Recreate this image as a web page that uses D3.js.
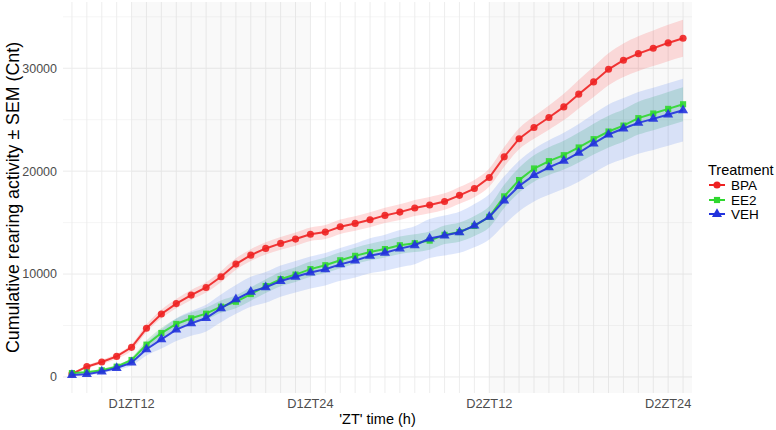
<!DOCTYPE html>
<html>
<head>
<meta charset="utf-8">
<script src="https://cdn.jsdelivr.net/npm/d3@7"></script>
<style>
  html, body { margin: 0; padding: 0; background: #fff; }
  svg { display: block; font-family: "Liberation Sans", Arial, Helvetica, sans-serif; }
</style>
</head>
<body>
<svg id="chart" width="776" height="430"></svg>
<script>
// ---- data ----
const hours = d3.range(0, 42); // hourly time points, D1ZT8 .. D2ZT25
const tickHours = [4, 16, 28, 40];
const tickLabels = ["D1ZT12", "D1ZT24", "D2ZT12", "D2ZT24"];
const yTicks = [0, 10000, 20000, 30000];
const yMinorTicks = [5000, 15000, 25000, 35000];
const darkPeriods = [[4, 16], [28, null]]; // shaded windows (start, end hour index; null = to panel edge)

const treatments = ["BPA", "EE2", "VEH"];
const colors = ["#EE2222", "#2FD82F", "#2233DD"];
const ribbonColors = ["#FF3333", "#1FB050", "#4477EE"];
const ribbonOpacity = [0.17, 0.2, 0.18];

const bpaMean = [300, 1000, 1450, 2000, 2880, 4730, 6120, 7130, 7960, 8700, 9740, 10970, 11840, 12490, 12980, 13400,
  13870, 14080, 14600, 14920, 15280, 15700, 16020, 16420, 16710, 17050, 17650, 18310, 19380, 21390, 23150, 24240,
  25210, 26240, 27480, 28670, 29900, 30780, 31420, 31940, 32460, 32910];
const ee2Mean = [380, 450, 650, 1000, 1650, 3140, 4270, 5150, 5700, 6150, 6830, 7310, 8060, 8830, 9510, 9950,
  10480, 10860, 11340, 11770, 12140, 12430, 12800, 13000, 13250, 13810, 14080, 14680, 15560, 17550, 19130, 20260,
  20970, 21550, 22300, 23110, 23850, 24430, 25150, 25600, 26050, 26500];
const vehMean = [190, 270, 520, 870, 1390, 2690, 3660, 4600, 5210, 5730, 6670, 7540, 8280, 8710, 9320, 9740,
  10150, 10470, 10940, 11310, 11780, 12070, 12470, 12800, 13450, 13750, 14060, 14700, 15560, 17150, 18560, 19610,
  20360, 21000, 21780, 22690, 23560, 24140, 24690, 25080, 25500, 25920];

const bpaSem = [100, 150, 200, 250, 300, 380, 420, 450, 480, 500, 530, 560, 580, 600, 620, 640, 660, 680, 700, 710,
  720, 740, 760, 780, 790, 800, 820, 840, 870, 950, 1020, 1100, 1180, 1280, 1380, 1470, 1550, 1620, 1680, 1730, 1770, 1800];
const ee2Sem = [100, 120, 150, 200, 250, 400, 480, 520, 560, 580, 600, 630, 650, 670, 690, 710, 740, 760, 780, 790,
  800, 820, 840, 860, 880, 900, 930, 970, 1030, 1120, 1200, 1280, 1350, 1400, 1450, 1500, 1540, 1570, 1600, 1620, 1640, 1650];
const vehSem = [20, 100, 150, 200, 300, 600, 900, 1100, 1200, 1300, 1350, 1400, 1450, 1500, 1520, 1540, 1560, 1580,
  1600, 1650, 1700, 1750, 1800, 1850, 1900, 1950, 2000, 2100, 2200, 2350, 2450, 2550, 2650, 2720, 2800, 2860, 2920,
  2960, 3000, 3020, 3040, 3050];

const means = [bpaMean, ee2Mean, vehMean];
const sems = [bpaSem, ee2Sem, vehSem];

// ---- layout ----
const panel = { left: 63, right: 692, top: 2, bottom: 393 };
const svg = d3.select("#chart");

const series = treatments.map((t, k) => ({
  name: t, color: colors[k], rib: ribbonColors[k], ribOp: ribbonOpacity[k],
  values: hours.map((h, i) => ({ h, m: means[k][i], lo: means[k][i] - sems[k][i], hi: means[k][i] + sems[k][i] }))
}));

const x = d3.scalePoint().domain(hours).range([panel.left, panel.right]).padding(0.6);
const lo = d3.min(series, s => d3.min(s.values, d => d.lo));
const hi = d3.max(series, s => d3.max(s.values, d => d.hi));
const pad = (hi - lo) * 0.05;
const y = d3.scaleLinear().domain([lo - pad, hi + pad]).range([panel.bottom, panel.top]);

// grid
const g = svg.append("g");
g.selectAll("line.ymin").data(yMinorTicks.filter(v => y(v) >= panel.top)).join("line")
  .attr("x1", panel.left).attr("x2", panel.right)
  .attr("y1", d => y(d)).attr("y2", d => y(d))
  .attr("stroke", "#EFEFEF").attr("stroke-width", 0.6);
g.selectAll("line.ymaj").data(yTicks).join("line")
  .attr("x1", panel.left).attr("x2", panel.right)
  .attr("y1", d => y(d)).attr("y2", d => y(d))
  .attr("stroke", "#EBEBEB").attr("stroke-width", 1);
g.selectAll("line.xg").data(hours).join("line")
  .attr("x1", d => x(d)).attr("x2", d => x(d))
  .attr("y1", panel.top).attr("y2", panel.bottom)
  .attr("stroke", "#EBEBEB").attr("stroke-width", 0.9);

// shaded dark periods
svg.append("g").selectAll("rect").data(darkPeriods).join("rect")
  .attr("x", d => x(d[0]))
  .attr("width", d => (d[1] === null ? panel.right : x(d[1])) - x(d[0]))
  .attr("y", panel.top).attr("height", panel.bottom - panel.top)
  .attr("fill", "#000").attr("fill-opacity", 0.025);

// ribbons
const area = d3.area().x(d => x(d.h)).y0(d => y(d.lo)).y1(d => y(d.hi)).curve(d3.curveMonotoneX);
svg.append("g").selectAll("path").data(series).join("path")
  .attr("d", s => area(s.values))
  .attr("fill", s => s.rib).attr("fill-opacity", s => s.ribOp);

// lines and points
const line = d3.line().x(d => x(d.h)).y(d => y(d.m));
const sym = [d3.symbolCircle, d3.symbolSquare, d3.symbolTriangle];
const symSize = [40, 38, 44];
series.forEach((s, k) => {
  svg.append("path").attr("d", line(s.values)).attr("fill", "none")
    .attr("stroke", s.color).attr("stroke-width", 2).attr("stroke-opacity", 0.9);
  svg.append("g").selectAll("path").data(s.values).join("path")
    .attr("transform", d => `translate(${x(d.h)},${y(d.m)})`)
    .attr("d", d3.symbol().type(sym[k]).size(symSize[k]))
    .attr("fill", s.color).attr("fill-opacity", 0.9);
});

// axes text
const tickCol = "#4D4D4D";
svg.append("g").selectAll("text").data(yTicks).join("text")
  .attr("x", 57).attr("y", d => y(d)).attr("dy", "0.35em")
  .attr("text-anchor", "end").attr("font-size", 12.5).attr("fill", tickCol)
  .text(d => d);
svg.append("g").selectAll("text").data(tickHours).join("text")
  .attr("x", d => x(d)).attr("y", 404).attr("dy", "0.35em")
  .attr("text-anchor", "middle").attr("font-size", 12.8).attr("fill", tickCol)
  .text((d, i) => tickLabels[i]);

svg.append("text").attr("x", (panel.left + panel.right) / 2).attr("y", 419).attr("dy", "0.35em")
  .attr("text-anchor", "middle").attr("font-size", 14.5).attr("fill", "#000")
  .text("'ZT' time (h)");
svg.append("text")
  .attr("transform", `translate(13,${(panel.top + panel.bottom) / 2}) rotate(-90)`)
  .attr("dy", "0.35em").attr("text-anchor", "middle").attr("font-size", 17.8).attr("fill", "#000")
  .text("Cumulative rearing activity ± SEM (Cnt)");

// legend
const lg = svg.append("g");
lg.append("text").attr("x", 708).attr("y", 170).attr("dy", "0.35em")
  .attr("font-size", 14.5).attr("fill", "#000").text("Treatment");
const rows = [185, 200, 214];
series.forEach((s, k) => {
  lg.append("line").attr("x1", 709).attr("x2", 725).attr("y1", rows[k]).attr("y2", rows[k])
    .attr("stroke", s.color).attr("stroke-width", 2);
  lg.append("path").attr("transform", `translate(717,${rows[k]})`)
    .attr("d", d3.symbol().type(sym[k]).size(symSize[k])).attr("fill", s.color);
  lg.append("text").attr("x", 731).attr("y", rows[k]).attr("dy", "0.35em")
    .attr("font-size", 13.5).attr("fill", "#000").text(s.name);
});
</script>
</body>
</html>
